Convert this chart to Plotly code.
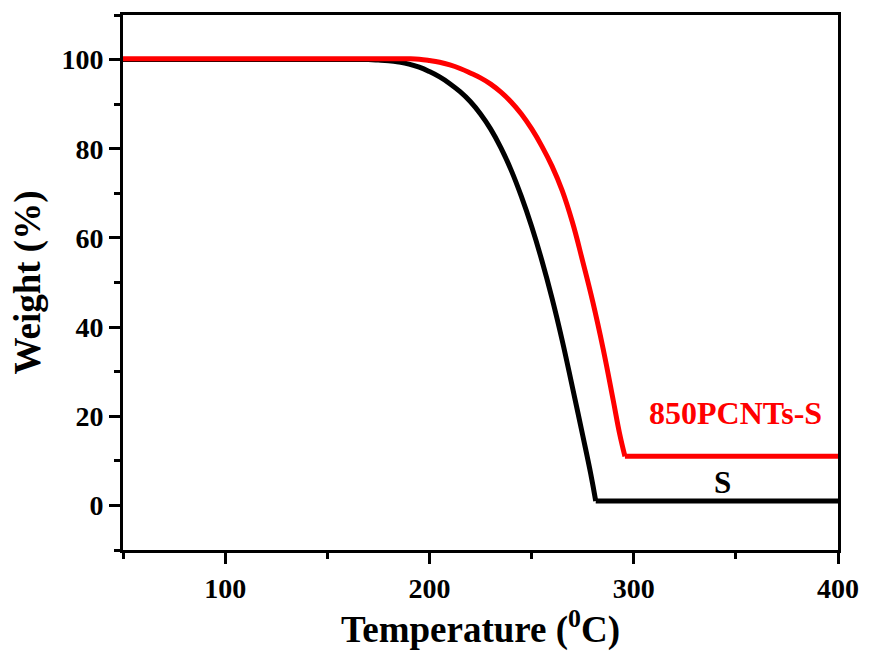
import plotly.graph_objects as go

# Data (TGA curves)
temp_s = [50, 100, 150, 170, 175, 180, 185, 190, 195, 200, 205, 210, 215, 220, 225, 230, 235, 240,
          245, 250, 255, 260, 265, 270, 275, 279, 281.4, 400]
weight_s = [100, 100, 100, 100, 99.9, 99.75, 99.45, 99.0, 98.3, 97.3, 96.1, 94.6, 92.8, 90.6, 87.8, 84.4,
            80.2, 75.2, 69.3, 62.6, 55.0, 46.5, 37.0, 26.5, 15.8, 7.0, 1.0, 1.0]

temp_p = [50, 150, 185, 190, 195, 200, 205, 210, 215, 220, 225, 230, 235, 240, 245, 250, 255, 260,
          265, 270, 275, 280, 285, 290, 293, 295.7, 400]
weight_p = [100.2, 100.2, 100.2, 100.2, 100.1, 99.8, 99.4, 98.8, 98.0, 97.0, 95.9, 94.5, 92.7, 90.5, 87.8,
            84.5, 80.6, 76.1, 70.6, 63.5, 54.8, 45.6, 35.2, 23.5, 16.3, 11.0, 11.0]

series_names = ["S", "850PCNTs-S"]
x_ticks = [100, 200, 300, 400]
y_ticks = [0, 20, 40, 60, 80, 100]

FONT = "Liberation Serif"

fig = go.Figure()
for tx, wy, color, name in [(temp_s, weight_s, "#000000", series_names[0]),
                            (temp_p, weight_p, "#FF0000", series_names[1])]:
    # smooth decomposition part (up to the residue corner)
    fig.add_trace(go.Scatter(x=tx[:-1], y=wy[:-1], mode="lines", name=name,
                             line=dict(color=color, width=5, shape="spline", smoothing=1.2)))
    # residue plateau
    fig.add_trace(go.Scatter(x=tx[-2:], y=wy[-2:], mode="lines", name=name,
                             line=dict(color=color, width=5)))

fig.add_annotation(x=350, y=20.8, text="<b>850PCNTs-S</b>", showarrow=False,
                   font=dict(family=FONT, size=32, color="#FF0000"))
fig.add_annotation(x=343.5, y=5.2, text="<b>S</b>", showarrow=False,
                   font=dict(family=FONT, size=31, color="#000000"))

axis_common = dict(
    showgrid=False, zeroline=False, showline=True, linecolor="black", linewidth=3,
    mirror=True, ticks="outside", tickcolor="black", tickwidth=3, ticklen=11,
)

fig.update_xaxes(
    range=[50, 400], tickvals=x_ticks, ticktext=[f"<b>{v}</b>" for v in x_ticks],
    tickfont=dict(family=FONT, size=28, color="black"),
    minor=dict(ticks="outside", ticklen=6, tickwidth=3, tickcolor="black", dtick=50, tick0=0),
    title=dict(text="<b>Temperature (<sup>0</sup>C)</b>", font=dict(family=FONT, size=37, color="black"),
               standoff=8),
    **axis_common,
)
fig.update_yaxes(
    range=[-10.001, 110.001], tickvals=y_ticks, ticktext=[f"<b>{v}</b>" for v in y_ticks],
    tickfont=dict(family=FONT, size=28, color="black"),
    minor=dict(ticks="outside", ticklen=6, tickwidth=3, tickcolor="black", dtick=10, tick0=0),
    title=dict(text="<b>Weight (%)</b>", font=dict(family=FONT, size=37, color="black"),
               standoff=10),
    **axis_common,
)

fig.update_layout(
    width=871, height=657,
    margin=dict(l=123, r=28, t=15, b=107),
    plot_bgcolor="white", paper_bgcolor="white",
    showlegend=False,
)

fig.write_html("out.html")
